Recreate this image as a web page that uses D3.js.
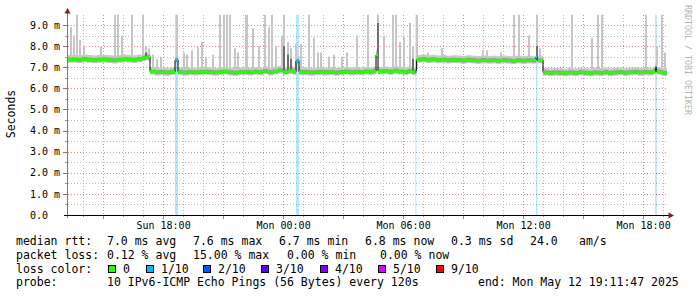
<!DOCTYPE html>
<html>
<head>
<meta charset="utf-8">
<script src="https://cdn.jsdelivr.net/npm/d3@7"></script>
<style>
  html, body { margin: 0; padding: 0; background: #fff; }
  svg { display: block; font-family: "DejaVu Sans Mono", monospace; }
</style>
</head>
<body>
<svg id="chart" width="697" height="297"></svg>
<script>
// ===== smokeping style latency graph =====

// time window of the graph
var startTime = new Date(2025, 4, 11, 13, 11, 47);
var endTime = new Date(2025, 4, 12, 19, 11, 47);
var spanHours = 30;

// median rtt steps: [hours after start, ms, loss level index]
var medianPts = [
  [0.00,7.36,0],[0.25,7.37,0],[0.50,7.35,0],[0.75,7.38,0],[1.00,7.36,0],[1.25,7.34,0],
  [1.50,7.36,0],[1.75,7.37,0],[2.00,7.35,0],[2.25,7.33,0],[2.50,7.36,0],[2.75,7.38,0],
  [3.00,7.37,0],[3.25,7.35,0],[3.50,7.38,0],[3.75,7.44,0],[3.95,7.48,0],
  [4.15,6.80,0],[4.40,6.76,0],[4.65,6.77,0],[4.90,6.75,0],[5.15,6.78,0],
  [5.40,7.34,1],[5.55,6.78,0],[5.80,6.75,0],[6.05,6.77,0],[6.30,6.76,0],[6.55,6.78,0],
  [6.80,6.79,0],[7.05,6.77,0],[7.30,6.75,0],[7.55,6.78,0],[7.80,6.80,0],[8.05,6.76,0],
  [8.30,6.74,0],[8.55,6.77,0],[8.80,6.78,0],[9.05,6.76,0],[9.30,6.79,0],[9.55,6.77,0],
  [9.80,6.82,0],[10.05,6.76,0],[10.30,6.80,0],[10.55,6.85,0],[10.80,6.78,0],[11.05,6.83,0],
  [11.30,6.79,0],[11.45,7.30,1],[11.60,6.78,0],[11.85,6.77,0],[12.10,6.75,0],[12.35,6.77,0],
  [12.60,6.78,0],[12.85,6.76,0],[13.10,6.78,0],[13.35,6.75,0],[13.60,6.77,0],[13.85,6.79,0],
  [14.10,6.76,0],[14.35,6.78,0],[14.60,6.77,0],[14.85,6.80,0],[15.10,6.78,0],[15.30,6.81,0],
  [15.45,7.58,0],[15.55,6.80,0],[15.80,6.82,0],[16.05,6.79,0],[16.30,6.84,0],[16.55,6.80,0],
  [16.80,6.78,0],[17.05,6.82,0],[17.25,6.77,0],
  [17.42,6.82,1],[17.47,7.36,0],[17.70,7.38,0],[17.95,7.35,0],[18.20,7.37,0],[18.45,7.34,0],
  [18.70,7.36,0],[18.95,7.33,0],[19.20,7.35,0],[19.45,7.34,0],[19.70,7.32,0],[19.95,7.35,0],
  [20.20,7.33,0],[20.45,7.31,0],[20.70,7.34,0],[20.95,7.32,0],[21.20,7.33,0],[21.45,7.31,0],
  [21.70,7.34,0],[21.95,7.32,0],[22.20,7.30,0],[22.45,7.33,0],[22.70,7.31,0],[22.95,7.33,0],
  [23.20,7.32,0],[23.45,7.48,1],[23.52,7.33,0],
  [23.80,6.75,0],[24.05,6.73,0],[24.30,6.75,0],[24.55,6.74,0],[24.80,6.72,0],[25.05,6.75,0],
  [25.30,6.73,0],[25.55,6.76,0],[25.80,6.74,0],[26.05,6.72,0],[26.30,6.75,0],[26.55,6.74,0],
  [26.80,6.76,0],[27.05,6.73,0],[27.30,6.75,0],[27.55,6.77,0],[27.80,6.74,0],[28.05,6.76,0],
  [28.30,6.78,0],[28.55,6.75,0],[28.80,6.77,0],[29.05,6.76,0],[29.30,6.80,0],
  [29.42,6.97,2],[29.48,6.80,0],[29.65,6.76,0],[29.80,6.73,0]
];

// outlier pings (smoke spikes): [hours after start, highest ms, dark core top ms or 0]
var spikes = [
  [0.15,8.9,0],[0.30,8.5,0],[0.45,9.5,0],[0.60,8.3,0],[0.80,8.0,0],[1.65,8.0,0],
  [2.35,9.5,0],[2.50,9.5,0],[2.70,8.5,0],[3.20,9.5,0],[3.75,9.5,0],[3.90,8.0,7.7],
  [4.05,7.9,0],[4.25,7.6,0],[4.45,7.4,0],[4.65,7.5,0],[5.45,9.5,0],[5.80,7.7,0],[5.95,7.6,0],
  [6.20,7.8,0],[6.50,7.95,0],[6.70,8.2,0],[6.90,7.5,0],[7.25,7.6,0],[7.60,9.5,0],
  [7.80,9.5,0],[7.95,9.5,0],[8.10,9.5,0],[8.35,7.9,0],[8.50,7.7,0],[8.90,9.5,0],
  [8.95,9.5,0],[9.25,8.85,0],[9.55,8.0,0],[9.85,9.5,0],[10.05,8.9,0],[10.20,9.5,0],
  [10.40,8.0,0],[10.70,8.5,0],[10.80,9.5,8.0],[11.00,8.2,7.6],[11.15,7.9,7.4],
  [11.40,8.1,0],[11.65,8.1,0],
  [12.05,9.5,0],[12.30,8.4,0],[12.50,7.7,0],[12.65,7.7,0],[13.05,7.5,0],[13.30,7.6,0],
  [13.70,7.5,0],[13.95,7.7,0],[14.45,8.5,0],[15.00,9.5,0],[15.50,9.5,9.1],[15.80,8.5,0],
  [16.25,9.5,0],[16.40,9.5,0],[16.60,8.2,0],[16.80,8.5,0],[17.10,9.1,0],[17.25,8.0,7.4],
  [17.45,9.5,0],
  [18.00,7.7,0],[18.70,7.9,0],[20.75,7.8,0],[20.95,7.8,0],[21.65,7.7,0],[22.30,9.5,0],
  [22.55,9.5,0],[23.05,8.5,0],[23.45,9.5,8.0],[23.60,7.9,0],
  [25.20,9.5,0],[26.20,8.4,0],[26.50,9.5,0],[26.70,9.5,0],[28.90,9.5,0],[29.45,8.0,0],
  [29.70,9.5,0],[29.85,7.7,0]
];

// y axis
var yMax = 9.5;
var yTicks = [0, 1, 2, 3, 4, 5, 6, 7, 8, 9];
var yUnit = "Seconds";

// loss colours
var lossLevels = ["0", "1/10", "2/10", "3/10", "4/10", "5/10", "9/10"];
var lossColors = ["#26ff00", "#00b8ff", "#0059ff", "#5e00ff", "#7e00ff", "#dd00ff", "#ff0000"];

// legend text
var rttStats = ["7.0 ms avg", "7.6 ms max", "6.7 ms min", "6.8 ms now", "0.3 ms sd", "24.0", "am/s"];
var lossStats = ["0.12 % avg", "15.00 % max", "0.00 % min", "0.00 % now"];
var probeText = "10 IPv6-ICMP Echo Pings (56 Bytes) every 120s";
var endText = "end: Mon May 12 19:11:47 2025";
var watermark = "RRDTOOL / TOBI OETIKER";

// ----- layout -----
var svg = d3.select("#chart");
var pLeft = 67, pRight = 667, pTop = 14.5, pBottom = 215;

function at(h) { return new Date(+startTime + h * 3600e3); }

var x = d3.scaleTime().domain([startTime, endTime]).range([pLeft, pRight]);
var y = d3.scaleLinear().domain([0, yMax]).range([pBottom, pTop]);

svg.append("rect").attr("width", 697).attr("height", 297).attr("fill", "#fff");

svg.append("defs").append("clipPath").attr("id", "plot-clip")
  .append("rect").attr("x", pLeft).attr("y", pTop)
  .attr("width", pRight - pLeft).attr("height", pBottom - pTop);

// ----- grid -----
var gridG = svg.append("g").attr("shape-rendering", "crispEdges");
var hours = x.ticks(d3.timeHour.every(1));
var halfSteps = d3.range(0.5, yMax, 0.5);
var minorCol = "#bcbcbc", majorCol = "#e48c8c";

halfSteps.forEach(function(v) {
  var major = v % 1 === 0;
  var py = Math.round(y(v)) + 0.5;
  gridG.append("line")
    .attr("x1", pLeft + 1).attr("x2", pRight)
    .attr("y1", py).attr("y2", py)
    .attr("stroke", major ? majorCol : minorCol)
    .attr("stroke-dasharray", "1,2");
  gridG.append("line")
    .attr("x1", pLeft - (major ? 4 : 2)).attr("x2", pLeft)
    .attr("y1", py).attr("y2", py)
    .attr("stroke", major ? "#b06060" : "#999");
});

hours.forEach(function(d) {
  var major = d.getHours() % 3 === 0;
  var px = Math.round(x(d)) + 0.5;
  gridG.append("line")
    .attr("x1", px).attr("x2", px)
    .attr("y1", pTop).attr("y2", pBottom)
    .attr("stroke", major ? majorCol : minorCol)
    .attr("stroke-dasharray", "1,2");
  gridG.append("line")
    .attr("x1", px).attr("x2", px)
    .attr("y1", pBottom).attr("y2", pBottom + (major ? 4 : 2))
    .attr("stroke", major ? "#d07070" : "#999");
});

// ----- data -----
var plot = svg.append("g").attr("clip-path", "url(#plot-clip)");

// step segments [h0, h1, value, loss]
var segs = medianPts.map(function(d, i) {
  var h1 = i < medianPts.length - 1 ? medianPts[i + 1][0] : spanHours;
  return { h0: d[0], h1: h1, v: d[1], loss: d[2] };
});

function medianAt(h) {
  var i = d3.bisector(function(d) { return d[0]; }).right(medianPts, h) - 1;
  return medianPts[Math.max(0, i)][1];
}

// loss background bars
plot.selectAll(".loss-bar")
  .data(segs.filter(function(s) { return s.loss > 0; }))
  .join("rect")
  .attr("class", "loss-bar")
  .attr("x", function(s) { return x(at(s.h0)); })
  .attr("width", function(s) { return Math.max(1, x(at(s.h1)) - x(at(s.h0))); })
  .attr("y", pTop).attr("height", pBottom - pTop)
  .attr("fill", function(s) { return lossColors[s.loss]; })
  .attr("opacity", 0.32);

// smoke band around the median
plot.selectAll(".smoke-out")
  .data(segs)
  .join("rect")
  .attr("class", "smoke-out")
  .attr("x", function(s) { return x(at(s.h0)); })
  .attr("width", function(s) { return x(at(s.h1)) - x(at(s.h0)) + 0.3; })
  .attr("y", function(s) { return y(s.v + 0.22); })
  .attr("height", function(s) { return y(s.v - 0.15) - y(s.v + 0.22); })
  .attr("fill", "#c9c9c9");

plot.selectAll(".smoke-in")
  .data(segs)
  .join("rect")
  .attr("class", "smoke-in")
  .attr("x", function(s) { return x(at(s.h0)); })
  .attr("width", function(s) { return x(at(s.h1)) - x(at(s.h0)) + 0.3; })
  .attr("y", function(s) { return y(s.v + 0.1); })
  .attr("height", function(s) { return y(s.v - 0.09) - y(s.v + 0.1); })
  .attr("fill", "#949494");

// outlier spikes
plot.selectAll(".spike")
  .data(spikes)
  .join("rect")
  .attr("class", "spike")
  .attr("x", function(d) { return Math.round(x(at(d[0]))); })
  .attr("width", 2)
  .attr("y", function(d) { return y(d[1]); })
  .attr("height", function(d) { return y(medianAt(d[0]) + 0.1) - y(d[1]); })
  .attr("fill", "#c6c6c6");

plot.selectAll(".spike-core")
  .data(spikes.filter(function(d) { return d[2] > 0; }))
  .join("rect")
  .attr("class", "spike-core")
  .attr("x", function(d) { return Math.round(x(at(d[0]))); })
  .attr("width", 2)
  .attr("y", function(d) { return y(d[2]); })
  .attr("height", function(d) { return y(medianAt(d[0])) - y(d[2]); })
  .attr("fill", "#6e6e6e");

// thin black median step line
var stepLine = d3.line()
  .x(function(d) { return x(at(d[0])); })
  .y(function(d) { return y(d[1]); })
  .curve(d3.curveStepAfter);

plot.append("path")
  .datum(medianPts.concat([[spanHours, medianPts[medianPts.length - 1][1], 0]]))
  .attr("d", stepLine)
  .attr("fill", "none").attr("stroke", "#000").attr("stroke-width", 1);

// thick median coloured by loss
plot.selectAll(".median")
  .data(segs)
  .join("rect")
  .attr("class", "median")
  .attr("x", function(s) { return x(at(s.h0)); })
  .attr("width", function(s) { return x(at(s.h1)) - x(at(s.h0)); })
  .attr("y", function(s) { return y(s.v) - 1.5; })
  .attr("height", 3)
  .attr("fill", function(s) { return lossColors[s.loss]; });

// ----- axes -----
var xAxis = d3.axisBottom(x)
  .tickValues(hours.filter(function(d) { return d.getHours() % 6 === 0; }))
  .tickFormat(d3.timeFormat("%a %H:%M"))
  .tickSize(0).tickPadding(6.5);

var xg = svg.append("g").attr("transform", "translate(0," + pBottom + ")").call(xAxis);
xg.select(".domain").remove();
xg.selectAll("text").attr("font-size", 10).attr("fill", "#000")
  .attr("font-family", "DejaVu Sans Mono, monospace");

var yAxis = d3.axisLeft(y)
  .tickValues(yTicks)
  .tickFormat(function(v) { return v === 0 ? "0.0" : d3.format(".1f")(v) + " m"; })
  .tickSize(0).tickPadding(7);

var yg = svg.append("g").attr("transform", "translate(" + pLeft + ",0)").call(yAxis);
yg.select(".domain").remove();
yg.selectAll("text").attr("font-size", 10).attr("fill", "#000")
  .attr("font-family", "DejaVu Sans Mono, monospace");
yg.selectAll(".tick").filter(function(v) { return v === 0; }).select("text").attr("x", -19);

// axis lines and arrows
svg.append("line")
  .attr("x1", pLeft + 0.5).attr("x2", pLeft + 0.5).attr("y1", 12).attr("y2", pBottom + 3)
  .attr("stroke", "#7a7a7a");
svg.append("line")
  .attr("x1", pLeft - 3).attr("x2", pRight + 3).attr("y1", pBottom + 0.5).attr("y2", pBottom + 0.5)
  .attr("stroke", "#000");
svg.append("path")
  .attr("d", "M64.5,13.5 L70.5,13.5 L67.5,8 Z")
  .attr("fill", "#8b1a1a");
svg.append("path")
  .attr("d", "M668.5,212.5 L668.5,218.5 L674,215.5 Z")
  .attr("fill", "#8b1a1a");

// unit label
svg.append("text")
  .attr("transform", "translate(15,114) rotate(-90)")
  .attr("text-anchor", "middle")
  .attr("font-size", 11.5).attr("fill", "#000")
  .text(yUnit);

// watermark
svg.append("text")
  .attr("transform", "translate(685,5) rotate(90)")
  .attr("font-size", 8.3).attr("fill", "#b4b4b4")
  .text(watermark);

// ----- legend -----
var leg = svg.append("g").attr("font-size", 11.5).attr("fill", "#000");
var rowY = [245, 258.5, 272.5, 286];

function legText(tx, ty, s) {
  leg.append("text").attr("x", tx).attr("y", ty).text(s);
}

legText(16, rowY[0], "median rtt:");
[107, 193, 279, 365, 451, 530, 579].forEach(function(px, i) { legText(px, rowY[0], rttStats[i]); });

legText(16, rowY[1], "packet loss:");
[107, 193, 287, 380].forEach(function(px, i) { legText(px, rowY[1], lossStats[i]); });

legText(16, rowY[2], "loss color:");
var swatchX = [108, 146, 203, 261, 320, 378, 436];
lossLevels.forEach(function(lbl, i) {
  leg.append("rect")
    .attr("x", swatchX[i] + 0.5).attr("y", 265.5)
    .attr("width", 7).attr("height", 7)
    .attr("fill", lossColors[i]).attr("stroke", "#000");
  legText(swatchX[i] + 15, rowY[2], lbl);
});

legText(16, rowY[3], "probe:");
legText(107, rowY[3], probeText);
legText(478, rowY[3], endText);
</script>
</body>
</html>
